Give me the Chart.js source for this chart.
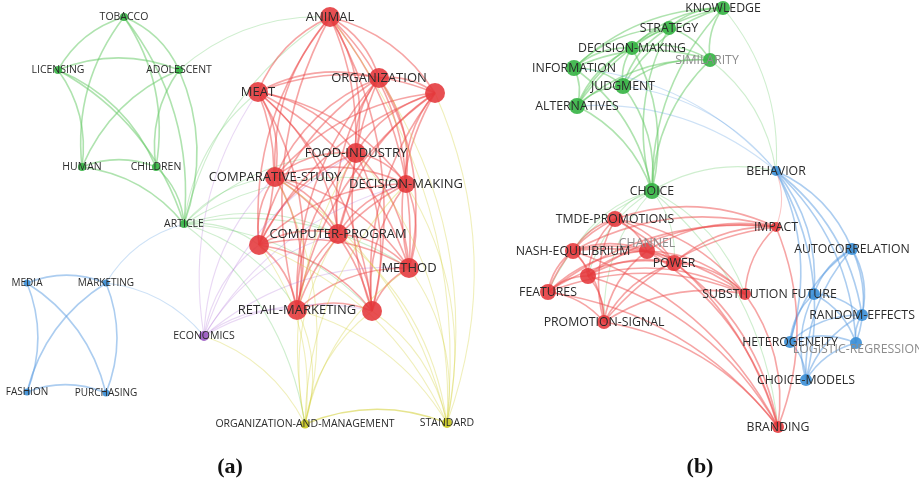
<!DOCTYPE html>
<html>
<head>
<meta charset="utf-8">
<script src="https://cdn.jsdelivr.net/npm/chart.js@4.4.1/dist/chart.umd.min.js"></script>
<style>
html,body{margin:0;padding:0;background:#fff;}
#wrap{position:relative;width:919px;height:484px;}
canvas{position:absolute;left:0;top:0;}
.cap{position:absolute;font-family:"Liberation Serif","DejaVu Serif",serif;font-weight:bold;font-size:22px;color:#111;transform:translate(-50%,-50%);}
</style>
</head>
<body>
<div id="wrap">
<canvas id="c" width="919" height="484"></canvas>
<div class="cap" style="left:230px;top:466px;">(a)</div>
<div class="cap" style="left:700px;top:466px;">(b)</div>
</div>
<script>
// ---------- Panel (a) nodes ----------
const aLabels = ['TOBACCO','LICENSING','ADOLESCENT','HUMAN','CHILDREN','ARTICLE','ANIMAL','ORGANIZATION','','MEAT','FOOD-INDUSTRY','COMPARATIVE-STUDY','DECISION-MAKING','COMPUTER-PROGRAM','','METHOD','RETAIL-MARKETING','','ECONOMICS','ORGANIZATION-AND-MANAGEMENT','STANDARD','MEDIA','MARKETING','FASHION','PURCHASING'];
const aX = [124,58,179,82,156,184,330,379,435,258,356,275,406,338,259,409,297,372,204,305,447,27,106,27,106];
const aY = [17,70,70,167,167,224,17,78,93,92,153,177,184,234,245,268,310,311,336,424,423,283,283,392,393];
const aCluster = ['g','g','g','g','g','g','r','r','r','r','r','r','r','r','r','r','r','r','p','y','y','b','b','b','b'];
const aWeight = [4,4,4,4,4,4,10,10,10,10,10,10,9,10,10,10,10,10,5,4.5,5,3.5,3.5,3.5,3.5];
const aEdges = [
 [0,1],[0,2],[0,3],[0,4],[1,2],[1,3],[1,4],[2,3],[2,4],[3,4],[3,5],[4,5],[2,5],[1,5],[0,5],
 [5,11],[5,13],[5,14],[5,15],[5,12],[5,10],[5,16],[5,17],[5,19],[5,6],[5,9],[2,6],
 [6,7],[6,8],[6,9],[6,10],[6,11],[6,12],[6,13],[6,14],[6,15],[6,16],[6,17],
 [7,8],[7,9],[7,10],[7,11],[7,12],[7,13],[7,14],[7,15],[7,16],[7,17],
 [8,9],[8,10],[8,11],[8,12],[8,13],[8,14],[8,15],[8,16],[8,17],
 [9,10],[9,11],[9,12],[9,13],[9,14],[9,15],[9,16],[9,17],
 [10,11],[10,12],[10,13],[10,14],[10,15],[10,16],[10,17],
 [11,12],[11,13],[11,14],[11,15],[11,16],[11,17],
 [12,13],[12,14],[12,15],[12,16],[12,17],
 [13,14],[13,15],[13,16],[13,17],
 [14,15],[14,16],[14,17],[15,16],[15,17],[16,17],
 [18,13],[18,14],[18,16],[18,17],[18,15],[18,11],[18,12],[18,10],[18,9],
 [19,16],[19,17],[19,15],[19,13],[19,14],[19,20],[19,12],[19,11],[19,10],[19,18],
 [20,15],[20,17],[20,16],[20,13],[20,12],[20,8],[20,7],[20,14],[20,11],[20,10],[20,6],
 [21,22],[21,23],[21,24],[22,23],[22,24],[23,24],[22,18],[22,5]
];

// ---------- Panel (b) nodes ----------
const bLabels = ['KNOWLEDGE','STRATEGY','DECISION-MAKING','SIMILARITY','INFORMATION','JUDGMENT','ALTERNATIVES','CHOICE','BEHAVIOR','TMDE-PROMOTIONS','CHANNEL','NASH-EQUILIBRIUM','POWER','','FEATURES','PROMOTION-SIGNAL','SUBSTITUTION','IMPACT','BRANDING','AUTOCORRELATION','FUTURE','RANDOM-EFFECTS','HETEROGENEITY','LOGISTIC-REGRESSION','CHOICE-MODELS'];
const bX = [723,669,632,710,574,623,577,652,776,615,647,573,674,588,548,604,745,776,778,852,814,862,790,856,806];
const bY = [8,28,48,60,68,86,106,191,171,219,251,251,263,276,292,322,294,227,427,249,294,315,342,343,380];
const bCluster = ['g','g','g','g','g','g','g','g','b','r','r','r','r','r','r','r','r','r','r','b','b','b','b','b','b'];
const bWeight = [7,7,7,7,8,8,8,8,5,8,8,8,8,8,8,7,6,5,6,6,6,6,6,6,6];
const bEdges = [
 [0,1],[0,2],[0,3],[0,4],[0,5],[0,6],[0,7],[1,2],[1,3],[1,4],[1,5],[1,6],[1,7],
 [2,3],[2,4],[2,5],[2,6],[2,7],[3,4],[3,5],[3,6],[3,7],[4,5],[4,6],[4,7],[5,6],[5,7],[6,7],
 [7,9],[7,11],[7,14],[7,15],[7,16],[7,18],[7,12],[7,13],[0,8],[3,8],[7,8],
 [8,4],[8,6],[8,5],[8,19],[8,20],[8,21],[8,22],[8,23],[8,24],
 [19,20],[19,21],[19,22],[19,23],[19,24],[20,21],[20,22],[20,23],[20,24],
 [21,22],[21,23],[21,24],[22,23],[22,24],[23,24],[17,8],
 [9,10],[9,11],[9,12],[9,13],[9,14],[9,15],[9,16],[9,17],[9,18],
 [10,11],[10,12],[10,13],[10,14],[10,15],[10,16],[10,17],[10,18],
 [11,12],[11,13],[11,14],[11,15],[11,16],[11,17],[11,18],
 [12,13],[12,14],[12,15],[12,16],[12,17],[12,18],
 [13,14],[13,15],[13,16],[13,17],[13,18],
 [14,15],[14,16],[14,17],[14,18],[15,16],[15,17],[15,18],
 [16,17],[16,18],[17,18]
];

// ---------- styles ----------
const nodeColor = {r:'rgba(228,55,58,0.88)', g:'rgba(52,178,66,0.9)', b:'rgba(58,142,214,0.9)', p:'rgba(155,90,195,0.9)', y:'rgba(200,198,30,0.9)'};
const edgeColor = {r:'rgba(238,75,75,0.5)', g:'rgba(95,200,95,0.5)', b:'rgba(90,155,225,0.5)', p:'rgba(175,110,215,0.45)', y:'rgba(210,205,50,0.55)'};
const greyLabels = ['SIMILARITY','CHANNEL','LOGISTIC-REGRESSION'];
const labelShift = {'b:CHANNEL':[0,-8],'b:LOGISTIC-REGRESSION':[2,6],'b:SIMILARITY':[-3,0]};

function buildDatasets(tag, labels, xs, ys, cl, w) {
  const groups = {};
  labels.forEach((l, i) => {
    const c = cl[i];
    if (!groups[c]) groups[c] = {label: tag + c, data: [], pointRadius: [], backgroundColor: nodeColor[c], borderWidth: 0, pointHoverRadius: 0};
    groups[c].data.push({x: xs[i], y: ys[i], name: l, panel: tag, cl: c});
    groups[c].pointRadius.push(w[i]);
  });
  return Object.values(groups);
}

const datasets = [
  ...buildDatasets('a', aLabels, aX, aY, aCluster, aWeight),
  ...buildDatasets('b', bLabels, bX, bY, bCluster, bWeight)
];

const edgePlugin = {
  id: 'edges',
  beforeDatasetsDraw(chart) {
    const ctx = chart.ctx, sx = chart.scales.x, sy = chart.scales.y;
    const drawSet = (xs, ys, cl, edges) => {
      edges.forEach(([i, j]) => {
        let a = i, b = j;
        if (xs[b] < xs[a] || (xs[b] === xs[a] && ys[b] < ys[a])) { a = j; b = i; }
        const x1 = sx.getPixelForValue(xs[a]), y1 = sy.getPixelForValue(ys[a]);
        const x2 = sx.getPixelForValue(xs[b]), y2 = sy.getPixelForValue(ys[b]);
        const dx = x2 - x1, dy = y2 - y1;
        const cx = (x1 + x2) / 2 + dy * 0.2, cy = (y1 + y2) / 2 - dx * 0.2;
        const same = cl[i] === cl[j];
        ctx.save();
        ctx.strokeStyle = edgeColor[cl[i]];
        ctx.globalAlpha = same ? 1 : 0.6;
        ctx.lineWidth = same ? 1.6 : 1.1;
        ctx.beginPath();
        ctx.moveTo(x1, y1);
        ctx.quadraticCurveTo(cx, cy, x2, y2);
        ctx.stroke();
        ctx.restore();
      });
    };
    drawSet(aX, aY, aCluster, aEdges);
    drawSet(bX, bY, bCluster, bEdges);
  }
};

const labelPlugin = {
  id: 'labels',
  afterDatasetsDraw(chart) {
    const ctx = chart.ctx, sx = chart.scales.x, sy = chart.scales.y;
    ctx.save();
    ctx.textAlign = 'center';
    ctx.textBaseline = 'middle';
    chart.data.datasets.forEach(ds => {
      ds.data.forEach(p => {
        if (!p.name) return;
        let size;
        if (p.panel === 'a') size = p.cl === 'r' ? 13 : (p.cl === 'b' ? 10 : 10.5);
        else size = 12.3;
        const sh = labelShift[p.panel + ':' + p.name] || [0, 0];
        ctx.font = size + 'px "Open Sans", sans-serif';
        ctx.fillStyle = greyLabels.includes(p.name) && p.panel === 'b' ? '#8c8c8c' : '#2b2b2b';
        ctx.fillText(p.name, sx.getPixelForValue(p.x) + sh[0], sy.getPixelForValue(p.y) + sh[1]);
      });
    });
    ctx.restore();
  }
};

new Chart(document.getElementById('c'), {
  type: 'scatter',
  data: {datasets},
  options: {
    responsive: false,
    animation: false,
    layout: {padding: 0, autoPadding: false},
    plugins: {legend: {display: false}, tooltip: {enabled: false}},
    events: [],
    scales: {
      x: {type: 'linear', min: 0, max: 919, display: false},
      y: {type: 'linear', min: 0, max: 484, reverse: true, display: false}
    }
  },
  plugins: [edgePlugin, labelPlugin]
});
</script>
</body>
</html>
